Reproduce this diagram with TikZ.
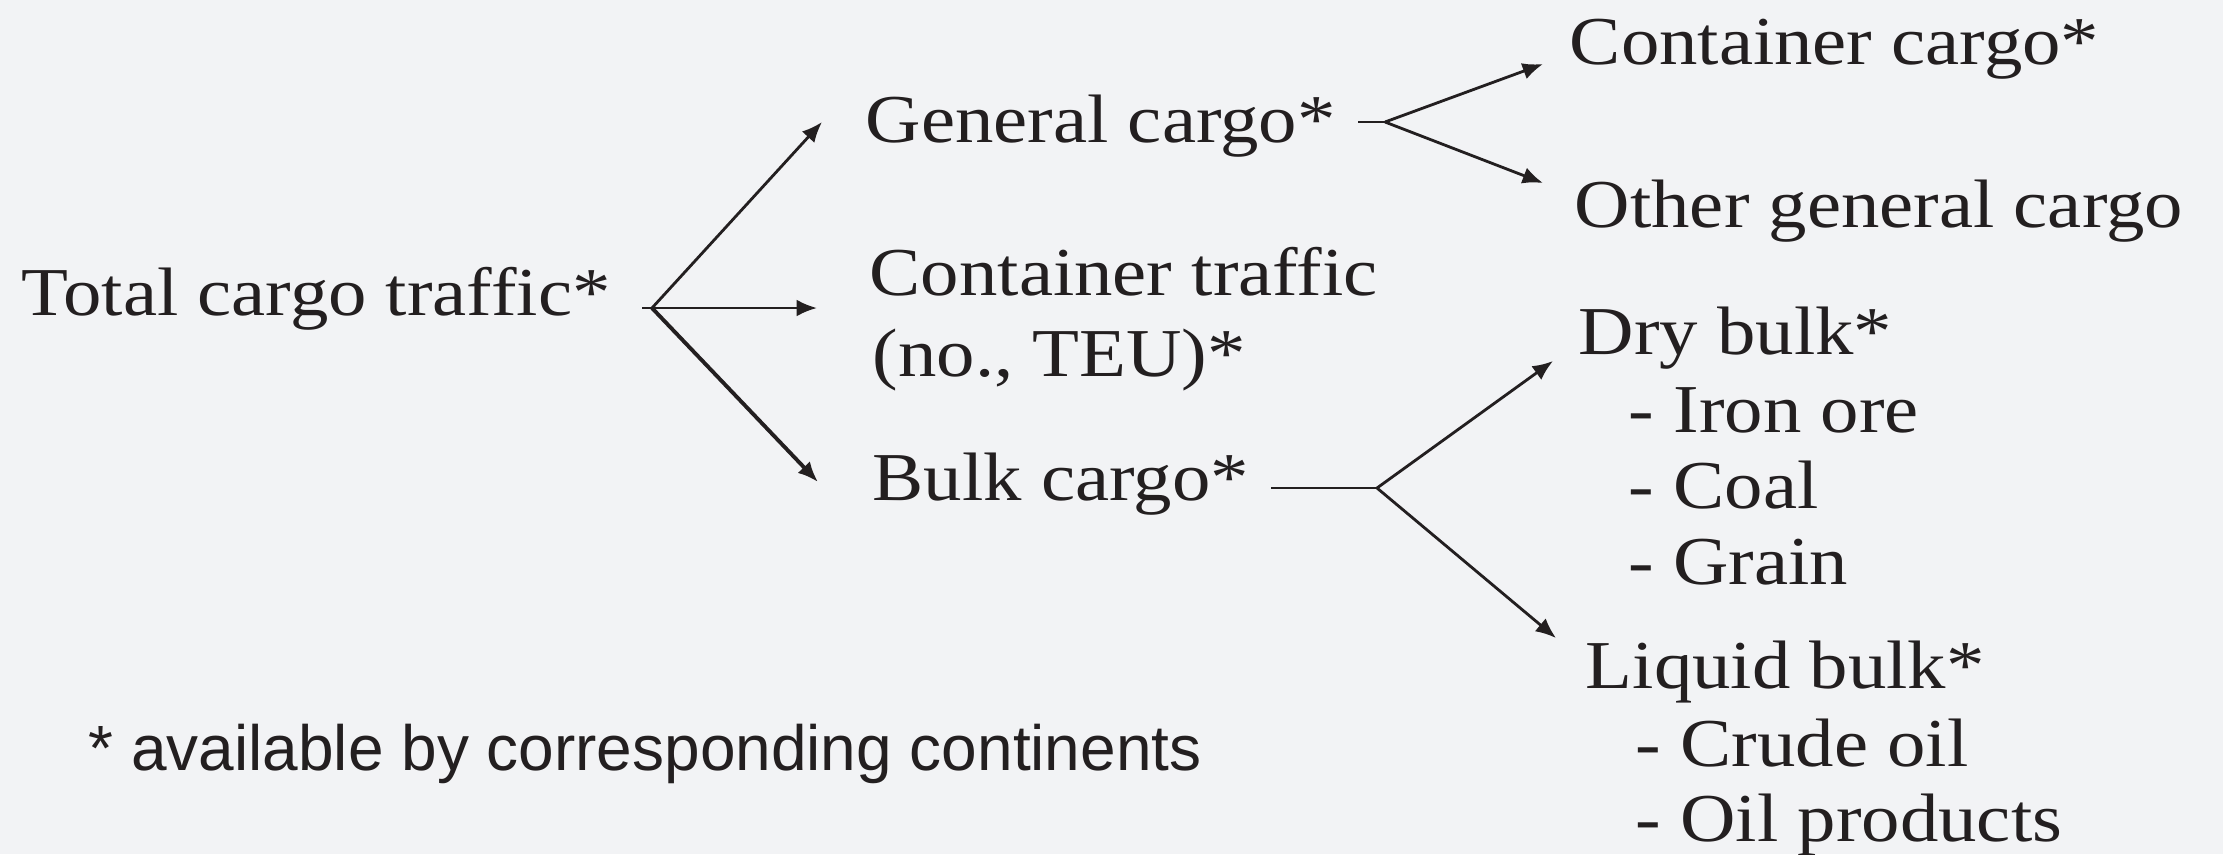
\documentclass[tikz,border=0pt]{standalone}
\usepackage{fontspec}
\setmainfont{Liberation Serif}
\setsansfont{Liberation Sans}
\usetikzlibrary{arrows.meta}
\definecolor{bg}{HTML}{F2F3F5}
\definecolor{ink}{HTML}{231F20}
\begin{document}
\begin{tikzpicture}[
	lbl/.style={anchor=base west,inner sep=0,text=ink,xscale=1.12,font=\fontsize{19.5}{24}\selectfont},
	arr/.style={draw=ink,line width=.8pt,-{Latex[length=5.8pt,width=4.8pt]}},
	stub/.style={draw=ink,line width=.45pt}]
	\fill[bg] (0,0) rectangle (22.23,-8.54);
	\useasboundingbox (0,0) rectangle (22.23,-8.54);
	% labels
	\node[lbl] (total) at (0.21,-3.15) {Total cargo traffic*};
	\node[lbl] (gen) at (8.65,-1.42) {General cargo*};
	\node[lbl] (cont) at (8.69,-2.95) {Container traffic};
	\node[lbl] (teu) at (8.72,-3.76) {(no., TEU)*};
	\node[lbl] (bulk) at (8.72,-5.00) {Bulk cargo*};
	\node[lbl] (ccargo) at (15.69,-0.64) {Container cargo*};
	\node[lbl] (other) at (15.74,-2.27) {Other general cargo};
	\node[lbl] (dry) at (15.78,-3.54) {Dry bulk*};
	\node[lbl] (iron) at (16.28,-4.32) {- Iron ore};
	\node[lbl] (coal) at (16.28,-5.08) {- Coal};
	\node[lbl] (grain) at (16.28,-5.84) {- Grain};
	\node[lbl] (liquid) at (15.85,-6.88) {Liquid bulk*};
	\node[lbl] (crude) at (16.35,-7.66) {- Crude oil};
	\node[lbl] (oilp) at (16.35,-8.41) {- Oil products};
	\node[anchor=base west,inner sep=0,text=ink,font=\sffamily\fontsize{18.2}{22}\selectfont] (note) at (0.88,-7.70) {* available by corresponding continents};
	% branch points and arrow ends
	\path
	(6.42,-3.08) coordinate (s1) (6.52,-3.08) coordinate (b1)
	(8.22,-1.22) coordinate (t1) (8.17,-3.08) coordinate (t2) (8.18,-4.82) coordinate (t3)
	(13.58,-1.22) coordinate (s2) (13.85,-1.22) coordinate (b2)
	(15.43,-0.64) coordinate (t4) (15.43,-1.83) coordinate (t5)
	(12.71,-4.88) coordinate (s3) (13.77,-4.88) coordinate (b3)
	(15.53,-3.61) coordinate (t6) (15.56,-6.38) coordinate (t7);
	\draw[stub] (s1)--(b1) (s2)--(b2) (s3)--(b3);
	\foreach \f/\t in {b1/t1,b1/t2,b2/t4,b2/t5,b3/t6,b3/t7} \draw[arr] (\f)--(\t);
	\draw[arr,line width=1.1pt] (b1)--(t3);
\end{tikzpicture}
\end{document}
